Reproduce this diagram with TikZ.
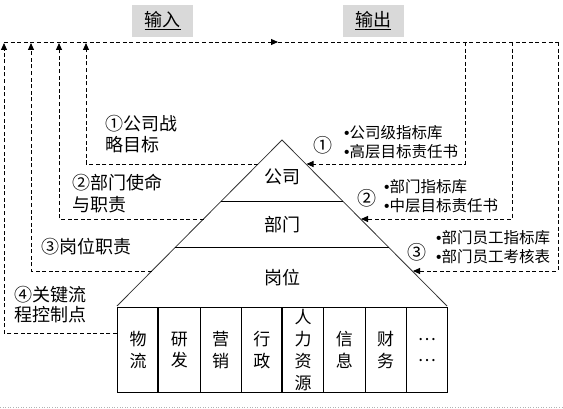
\documentclass[tikz,border=0pt]{standalone}
\usepackage{fontspec}
\setmainfont{Noto Sans CJK SC}
\newfontfamily\latfont{Liberation Sans}
\newcommand{\bul}{{\latfont •}}
\usetikzlibrary{arrows.meta}
\definecolor{lgray}{RGB}{217,217,217}
\begin{document}
\begin{tikzpicture}[x=1pt,y=-1pt,
  dl/.style={draw=black,line width=0.9pt,dash pattern=on 4pt off 2.6pt},
  arr/.style={-{Triangle[length=7pt,width=6pt]}},
  tag/.style={fill=lgray,minimum width=61pt,minimum height=32pt,inner sep=0pt,font=\fontsize{18}{20}\selectfont},
  lefttxt/.style={anchor=west,align=left,inner sep=0pt,font=\fontsize{18}{21.5}\selectfont},
  righttxt/.style={anchor=west,align=left,inner sep=0pt,font=\fontsize{15.5}{19}\selectfont},
  num/.style={inner sep=0pt,font=\fontsize{19}{21}\selectfont},
  tier/.style={inner sep=0pt,font=\fontsize{18}{20}\selectfont},
  cell/.style={draw=black,line width=1.1pt,anchor=north west,minimum width=41.25pt,minimum height=85pt,inner sep=0pt,align=center,font=\fontsize{17}{21.7}\selectfont}
]
\useasboundingbox (0,0) rectangle (563,409);

% tags
\node[tag] (tin) at (162.5,21) {\underline{输入}};
\node[tag] (tout) at (373,21) {\underline{输出}};

% pyramid
\coordinate (apex) at (282,140);
\coordinate (bl) at (117,306);
\coordinate (br) at (447,306);
\draw[black!80,line width=0.8pt] (bl) -- (apex) -- (br);
\coordinate (h1l) at (220.7,201.7);
\coordinate (h1r) at (343.3,201.7);
\coordinate (h2l) at (174.7,248);
\coordinate (h2r) at (389.3,248);
\draw[black,line width=1pt] (h1l) -- (h1r);
\draw[black,line width=1pt] (h2l) -- (h2r);
\node[tier] (t1) at (282,177) {公司};
\node[tier] (t2) at (282,225) {部门};
\node[tier] (t3) at (282,278) {岗位};

% boxes
\foreach \i/\t [count=\k] in {0/{物\\流},1/{研\\发},2/{营\\销},3/{行\\政},4/{人\\力\\资\\源},5/{信\\息},6/{财\\务},7/{…\\…}}{
  \node[cell] (c\k) at ({117+41.25*\i},307) {\t};
}
\draw[line width=2.2pt] (c2.north west) -- (c2.south west);
\draw[line width=2.2pt] (c5.north west) -- (c5.south west);

% coordinates for connectors
\coordinate (in1) at (258.1,164);
\coordinate (in2) at (203.5,219);
\coordinate (in3) at (151.8,271);
\coordinate (in4) at (117,333);
\coordinate (up1) at (86,43);
\coordinate (up2) at (59,43);
\coordinate (up3) at (31,43);
\coordinate (up4) at (4,43);
\coordinate (topL) at (4,42);
\coordinate (topM) at (278,42);
\coordinate (topR) at (558,42);
\coordinate (d1) at (465,42);
\coordinate (d2) at (512,42);
\coordinate (d3) at (558,42);
\coordinate (out1) at (306.5,164);
\coordinate (out2) at (361,219);
\coordinate (out3) at (413,271);

% input connectors
\draw[dl,arr] (in1) -| (up1);
\draw[dl,arr] (in2) -| (up2);
\draw[dl,arr] (in3) -| (up3);
\draw[dl,arr] (in4) -| (up4);
\draw[dl,arr] (topL) -- (topM);
\draw[dl] (topM) -- (topR);
% output connectors
\draw[dl,arr] (d1) |- (out1);
\draw[dl,arr] (d2) |- (out2);
\draw[dl,arr] (d3) |- (out3);

% left texts
\node[lefttxt] (l1) at (105,134) {①公司战\\略目标};
\node[lefttxt] (l2) at (72,193.5) {②部门使命\\与职责};
\node[lefttxt] (l3) at (41,247) {③岗位职责};
\node[lefttxt,font=\fontsize{18}{20}\selectfont] (l4) at (14,305) {④关键流\\程控制点};

% right texts
\node[num] (n1) at (323,145) {①};
\node[righttxt] (r1) at (344,142.5) {\bul 公司级指标库\\\bul 高层目标责任书};
\node[num] (n2) at (367,198) {②};
\node[righttxt] (r2) at (384,196) {\bul 部门指标库\\\bul 中层目标责任书};
\node[num] (n3) at (417,252) {③};
\node[righttxt] (r3) at (436,247) {\bul 部门员工指标库\\\bul 部门员工考核表};

% bottom border
\draw[black!30,line width=0.6pt,dotted] (0,407) -- (563,407);
\end{tikzpicture}
\end{document}
